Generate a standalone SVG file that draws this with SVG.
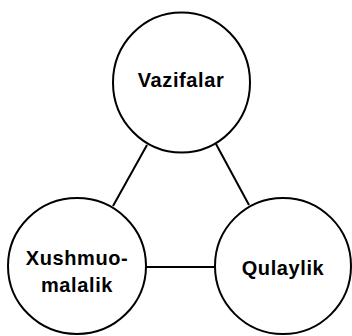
<svg xmlns="http://www.w3.org/2000/svg" width="352" height="336" viewBox="0 0 352 336">
<style>
.n{fill:#fff;stroke:#000;stroke-width:2}
.c line{stroke:#000;stroke-width:2}
text{font-family:"Liberation Sans",Arial,sans-serif;font-weight:bold;font-size:20px;letter-spacing:0.6px;text-anchor:middle;fill:#000}
</style>
<rect width="352" height="336" fill="#fff"/>
<g class="c" id="connectors">
<line x1="147" y1="145" x2="113" y2="206"/>
<line x1="216" y1="144" x2="249" y2="205"/>
<line x1="146" y1="267" x2="216" y2="267"/>
</g>
<g id="vazifalar"><ellipse class="n" cx="181.5" cy="82.5" rx="68.5" ry="70"/><text x="181" y="87">Vazifalar</text></g>
<g id="xushmuomalalik"><ellipse class="n" cx="77" cy="266" rx="69" ry="68"/><text x="77" y="265">Xushmuo-</text><text x="77" y="292">malalik</text></g>
<g id="qulaylik"><ellipse class="n" cx="283" cy="266" rx="68" ry="68"/><text x="283" y="275">Qulaylik</text></g>
</svg>
